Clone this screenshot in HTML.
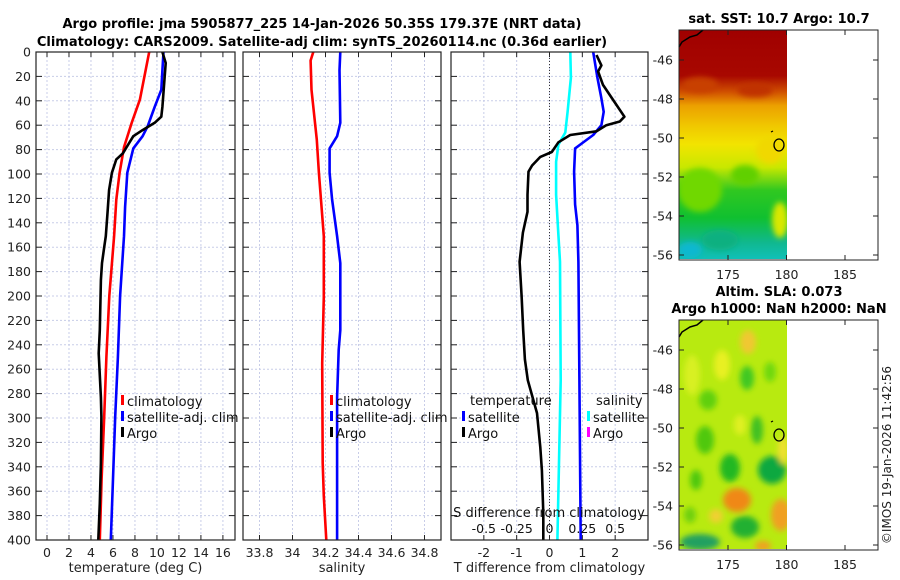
<!DOCTYPE html>
<html><head><meta charset="utf-8">
<style>
html,body{margin:0;padding:0;background:#fff;}
svg{display:block;font-family:"DejaVu Sans","Liberation Sans",sans-serif;}
</style></head>
<body>
<svg id="fig" width="900" height="580" viewBox="0 0 900 580" xmlns="http://www.w3.org/2000/svg">
<defs>
  <linearGradient id="sstGrad" x1="0" y1="0" x2="0" y2="1">
    <stop offset="0" stop-color="#a00000"/>
    <stop offset="0.2" stop-color="#a80800"/>
    <stop offset="0.27" stop-color="#d05000"/>
    <stop offset="0.33" stop-color="#eca000"/>
    <stop offset="0.42" stop-color="#f0c800"/>
    <stop offset="0.5" stop-color="#f2e400"/>
    <stop offset="0.6" stop-color="#c8e800"/>
    <stop offset="0.7" stop-color="#30c820"/>
    <stop offset="0.82" stop-color="#10c030"/>
    <stop offset="0.93" stop-color="#10b890"/>
    <stop offset="1" stop-color="#10c0b8"/>
  </linearGradient>
  <filter id="blur4" x="-50%" y="-50%" width="200%" height="200%"><feGaussianBlur stdDeviation="3"/></filter>
  <clipPath id="clipMap1"><rect x="679" y="30" width="108" height="229"/></clipPath>
  <clipPath id="clipMap2"><rect x="679" y="320" width="108" height="229"/></clipPath>
</defs>

<g font-weight="bold" font-size="13" text-anchor="middle" fill="#000">
  <text x="322" y="28">Argo profile: jma 5905877_225 14-Jan-2026 50.35S 179.37E (NRT data)</text>
  <text x="322" y="46">Climatology: CARS2009. Satellite-adj clim: synTS_20260114.nc (0.36d earlier)</text>
</g>

<!-- SST map -->
<g>
  <text x="779" y="23" font-size="13" font-weight="bold" text-anchor="middle">sat. SST: 10.7 Argo: 10.7</text>
  <g clip-path="url(#clipMap1)">
    <rect x="679" y="30" width="108" height="229" fill="url(#sstGrad)"/>
    <g filter="url(#blur4)">
      <ellipse cx="700" cy="190" rx="22" ry="22" fill="#70d800"/>
      <ellipse cx="745" cy="175" rx="14" ry="10" fill="#60d000"/>
      <ellipse cx="770" cy="150" rx="14" ry="14" fill="#f0d800"/>
      <ellipse cx="780" cy="220" rx="8" ry="18" fill="#d8e800"/>
      <ellipse cx="700" cy="85" rx="18" ry="8" fill="#c84000"/>
      <ellipse cx="755" cy="90" rx="18" ry="7" fill="#c03000"/>
      <ellipse cx="690" cy="250" rx="12" ry="8" fill="#10b8d0"/>
      <ellipse cx="720" cy="240" rx="18" ry="10" fill="#10b080"/>
    </g>
  </g>
  <path d="M679,47 L682,42 L690,37 L697,35 L703,30" fill="none" stroke="#000" stroke-width="1.5"/>
  <path d="M771,132 l2,-1" stroke="#000" stroke-width="1.2"/>
  <ellipse cx="779" cy="145" rx="5" ry="6" fill="none" stroke="#000" stroke-width="1.3"/>
  <rect x="679" y="30" width="199" height="230" fill="none" stroke="#222" stroke-width="1"/>
</g>

<!-- SLA map -->
<g>
  <text x="779" y="296" font-size="13" font-weight="bold" text-anchor="middle">Altim. SLA: 0.073</text>
  <text x="779" y="313" font-size="13" font-weight="bold" text-anchor="middle">Argo h1000: NaN h2000: NaN</text>
  <g clip-path="url(#clipMap2)">
    <rect x="679" y="320" width="108" height="229" fill="#b8ea10"/>
    <g filter="url(#blur4)">
      <ellipse cx="748" cy="342" rx="8" ry="12" fill="#f0c830"/>
      <ellipse cx="747" cy="378" rx="7" ry="12" fill="#40c820"/>
      <ellipse cx="692" cy="375" rx="8" ry="20" fill="#d8f020"/>
      <ellipse cx="708" cy="400" rx="9" ry="10" fill="#60d010"/>
      <ellipse cx="770" cy="372" rx="6" ry="10" fill="#70d810"/>
      <ellipse cx="722" cy="365" rx="8" ry="15" fill="#e8f020"/>
      <ellipse cx="705" cy="440" rx="9" ry="14" fill="#50c810"/>
      <ellipse cx="730" cy="468" rx="10" ry="14" fill="#20b820"/>
      <ellipse cx="757" cy="430" rx="6" ry="14" fill="#40c020"/>
      <ellipse cx="772" cy="470" rx="14" ry="14" fill="#10a840"/>
      <ellipse cx="783" cy="450" rx="5" ry="14" fill="#f0e030"/>
      <ellipse cx="740" cy="425" rx="6" ry="10" fill="#e0f020"/>
      <ellipse cx="696" cy="480" rx="6" ry="10" fill="#50c810"/>
      <ellipse cx="737" cy="500" rx="14" ry="12" fill="#f08818"/>
      <ellipse cx="745" cy="527" rx="14" ry="11" fill="#20b030"/>
      <ellipse cx="781" cy="515" rx="10" ry="16" fill="#f0a020"/>
      <ellipse cx="700" cy="542" rx="20" ry="8" fill="#20a060"/>
      <ellipse cx="716" cy="516" rx="7" ry="7" fill="#f0d030"/>
      <ellipse cx="763" cy="546" rx="8" ry="5" fill="#f0a020"/>
      <ellipse cx="690" cy="515" rx="6" ry="8" fill="#70d010"/>
    </g>
  </g>
  <path d="M679,337 L682,332 L690,327 L697,325 L703,320" fill="none" stroke="#000" stroke-width="1.5"/>
  <path d="M771,422 l2,-1" stroke="#000" stroke-width="1.2"/>
  <ellipse cx="779" cy="435" rx="5" ry="6" fill="none" stroke="#000" stroke-width="1.3"/>
  <rect x="679" y="320" width="199" height="230" fill="none" stroke="#222" stroke-width="1"/>
</g>

<text transform="translate(891,455) rotate(-90)" font-size="12" text-anchor="middle" fill="#222">©IMOS 19-Jan-2026 11:42:56</text>
</svg>

<script>
// ---------- data ----------
const depthTicks = [0,20,40,60,80,100,120,140,160,180,200,220,240,260,280,300,320,340,360,380,400];

const tempTicks = [0,2,4,6,8,10,12,14,16];
const salTicks = [33.8,34,34.2,34.4,34.6,34.8];
const salTickLabels = ['33.8','34','34.2','34.4','34.6','34.8'];
const tdiffTicks = [-2,-1,0,1,2];
const sdiffTicks = [-0.5,-0.25,0,0.25,0.5];
const sdiffTickLabels = ['-0.5','-0.25','0','0.25','0.5'];

const climTDepth = [0,39,58,78,99,121,151,200,250,299,350,400];
const climT      = [9.3,8.45,7.7,7.0,6.6,6.3,6.1,5.67,5.4,5.2,4.97,4.8];
const satTDepth  = [0,15,31,45,61,69,79,99,127,151,200,250,299,350,400];
const satT       = [10.6,10.5,10.4,9.8,9.15,8.7,7.85,7.3,7.1,7.0,6.65,6.45,6.2,6.0,5.8];
const argoTDepth = [0,9,45,53,58,64,69,83,88,99,113,132,151,160,173,187,228,247,283,299,337,370,400];
const argoT      = [10.5,10.8,10.5,10.4,9.8,8.7,7.85,6.9,6.3,5.9,5.65,5.5,5.35,5.2,5.0,4.9,4.8,4.7,4.9,4.95,4.9,4.8,4.67];

const climSDepth = [0,7,31,72,99,151,201,255,337,364,400];
const climS      = [34.126,34.11,34.115,34.147,34.16,34.19,34.19,34.18,34.183,34.19,34.205];
const satSDepth  = [0,15,58,69,79,99,121,151,173,228,244,283,400];
const satS       = [34.29,34.285,34.29,34.27,34.225,34.225,34.24,34.27,34.29,34.29,34.28,34.27,34.27];

const satTdiffDepth  = [0,21,38,49,60,68,75,79,98,125,142,172,269,400];
const satTdiff       = [1.33,1.46,1.58,1.65,1.58,1.33,0.98,0.78,0.75,0.78,0.85,0.88,0.91,0.95];
const argoTdiffDepth = [2.5,11,16,27,41,53,57,60,65,68,74,82,86,93,98,117,131,148,172,200,228,252,269,296,324,343,378,400];
const argoTdiff      = [1.43,1.58,1.48,1.63,1.98,2.28,2.14,1.73,1.43,0.63,0.27,0.07,-0.28,-0.53,-0.64,-0.67,-0.67,-0.81,-0.91,-0.85,-0.8,-0.75,-0.66,-0.38,-0.28,-0.23,-0.19,-0.19];
const satSdiffDepth  = [0,21,49,66,76,90,117,150,172,269,400];
const satSdiff       = [0.158,0.163,0.138,0.12,0.068,0.05,0.05,0.068,0.08,0.085,0.06];

const mapLatTicks = [-46,-48,-50,-52,-54,-56];
const mapLonTicks = [175,180,185];

// ---------- drawing ----------
const NS = 'http://www.w3.org/2000/svg';
const svg = document.getElementById('fig');
function mk(tag, attrs, parent){
  const e = document.createElementNS(NS, tag);
  for (const k in attrs) e.setAttribute(k, attrs[k]);
  (parent||svg).appendChild(e);
  return e;
}
const Y0 = 52, Y1 = 540, DMAX = 400;
function yDepth(d){ return Y0 + d*(Y1-Y0)/DMAX; }

function makePanel(name, x0, x1, xmin, xmax, ticks, labels, showY, xtitle){
  const g = mk('g', {});
  
  
  const sx = v => x0 + (v-xmin)*(x1-x0)/(xmax-xmin);
  ticks.forEach(t => {
    const x = sx(t);
    const l = mk('line', {x1:x, x2:x, y1:Y0, y2:Y1, stroke:'#c8cde8', 'stroke-width':1, 'stroke-dasharray':'2,2'}, g);
    
    
    mk('line', {x1:x, x2:x, y1:Y1, y2:Y1-5, stroke:'#222'}, g);
    mk('line', {x1:x, x2:x, y1:Y0, y2:Y0+5, stroke:'#222'}, g);
  });
  depthTicks.forEach(d => {
    const y = yDepth(d);
    mk('line', {x1:x0, x2:x1, y1:y, y2:y, stroke:'#c8cde8', 'stroke-width':1, 'stroke-dasharray':'2,2'}, g);
    mk('line', {x1:x0, x2:x0+6, y1:y, y2:y, stroke:'#222'}, g);
    mk('line', {x1:x1, x2:x1-6, y1:y, y2:y, stroke:'#222'}, g);
    if (showY){
      const t = mk('text', {x:x0-5, y:y+4.5, 'font-size':12.5, 'text-anchor':'end', fill:'#222'}, g);
      
      
      t.textContent = d;
    }
  });
  ticks.forEach((t,i) => {
    const tx = mk('text', {x:sx(t), y:557, 'font-size':12.5, 'text-anchor':'middle', fill:'#222'}, g);
    
    
    tx.textContent = labels[i];
  });
  const tt = mk('text', {x:(x0+x1)/2, y:572, 'font-size':13, 'text-anchor':'middle', fill:'#222'}, g);
  
  
  tt.textContent = xtitle;
  return {g, sx};
}
function frame(name, x0, x1){
  const r = mk('rect', {x:x0, y:Y0, width:x1-x0, height:Y1-Y0, fill:'none', stroke:'#222', 'stroke-width':1.2});
  
  
}
function line(p, depths, vals, color, nm, scale){
  const pts = depths.map((d,i) => p.sx(vals[i]*(scale||1)).toFixed(1)+','+yDepth(d).toFixed(1)).join(' ');
  const pl = mk('polyline', {points:pts, fill:'none', stroke:color, 'stroke-width':2.6, 'stroke-linejoin':'round'}, p.g);
  
  
}
function legend(g, x, y, color, label, nm){
  const r = mk('rect', {x:x, y:y-11, width:3, height:10, fill:color}, g);
  
  
  const t = mk('text', {x:x+6, y:y, 'font-size':13, fill:'#111'}, g);
  
  
  t.textContent = label;
}

// Panel 1: temperature
const p1 = makePanel('temperature-panel', 36, 235, -1, 17.1, tempTicks, tempTicks.map(String), true, 'temperature (deg C)');
line(p1, climTDepth, climT, '#ff0000', 'temperature-climatology-line');
line(p1, satTDepth, satT, '#0000ff', 'temperature-satellite-line');
line(p1, argoTDepth, argoT, '#000000', 'temperature-argo-line');
legend(p1.g, 121, 406, '#ff0000', 'climatology', 'legend-entry-climatology');
legend(p1.g, 121, 422, '#0000ff', 'satellite-adj. clim', 'legend-entry-satellite');
legend(p1.g, 121, 438, '#000000', 'Argo', 'legend-entry-argo');
frame('temperature-panel', 36, 235);

// Panel 2: salinity
const p2 = makePanel('salinity-panel', 243, 441, 33.7, 34.9, salTicks, salTickLabels, false, 'salinity');
line(p2, climSDepth, climS, '#ff0000', 'salinity-climatology-line');
line(p2, satSDepth, satS, '#0000ff', 'salinity-satellite-line');
legend(p2.g, 330, 406, '#ff0000', 'climatology', 'salinity-legend-climatology');
legend(p2.g, 330, 422, '#0000ff', 'satellite-adj. clim', 'salinity-legend-satellite');
legend(p2.g, 330, 438, '#000000', 'Argo', 'salinity-legend-argo');
frame('salinity-panel', 243, 441);

// Panel 3: differences
const p3 = makePanel('difference-panel', 451, 648, -3, 3, tdiffTicks, tdiffTicks.map(String), false, 'T difference from climatology');
const zl = mk('line', {x1:p3.sx(0), x2:p3.sx(0), y1:Y0, y2:Y1, stroke:'#333', 'stroke-width':1, 'stroke-dasharray':'1,2'}, p3.g);


line(p3, satSdiffDepth, satSdiff, '#00ffff', 'salinity-diff-satellite-line', 4);
line(p3, satTdiffDepth, satTdiff, '#0000ff', 'temperature-diff-satellite-line');
line(p3, argoTdiffDepth, argoTdiff, '#000000', 'temperature-diff-argo-line');
const st = mk('text', {x:549, y:517, 'font-size':13, 'text-anchor':'middle', fill:'#111'}, p3.g);


st.textContent = 'S difference from climatology';
sdiffTicks.forEach((s,i) => {
  const t = mk('text', {x:p3.sx(s*4), y:533, 'font-size':12.5, 'text-anchor':'middle', fill:'#111'}, p3.g);
  
  
  t.textContent = sdiffTickLabels[i];
});
const lt1 = mk('text', {x:470, y:405, 'font-size':13, fill:'#111'}, p3.g);


lt1.textContent = 'temperature';
const lt2 = mk('text', {x:596, y:405, 'font-size':13, fill:'#111'}, p3.g);


lt2.textContent = 'salinity';
legend(p3.g, 462, 422, '#0000ff', 'satellite', 'legend-entry-t-satellite');
legend(p3.g, 462, 438, '#000000', 'Argo', 'legend-entry-t-argo');
legend(p3.g, 587, 422, '#00ffff', 'satellite', 'legend-entry-s-satellite');
legend(p3.g, 587, 438, '#ff00ff', 'Argo', 'legend-entry-s-argo');
frame('difference-panel', 451, 648);

// Map axes
function mapAxes(name, top, latAt46){
  const g = mk('g', {});
  
  
  const sy = lat => latAt46 + (-46 - lat)*19.5;
  const sx = lon => 786.5 + (lon-180)*11.7;
  mapLatTicks.forEach(lat => {
    const y = sy(lat);
    mk('line', {x1:679, x2:684, y1:y, y2:y, stroke:'#222'}, g);
    mk('line', {x1:878, x2:873, y1:y, y2:y, stroke:'#222'}, g);
    const t = mk('text', {x:673, y:y+4.5, 'font-size':12.5, 'text-anchor':'end', fill:'#222'}, g);
    
    
    t.textContent = lat;
  });
  mapLonTicks.forEach(lon => {
    const x = sx(lon);
    mk('line', {x1:x, x2:x, y1:top+230, y2:top+225, stroke:'#222'}, g);
    mk('line', {x1:x, x2:x, y1:top, y2:top+5, stroke:'#222'}, g);
    const t = mk('text', {x:x, y:top+249, 'font-size':12.5, 'text-anchor':'middle', fill:'#222'}, g);
    
    
    t.textContent = lon;
  });
}
mapAxes('sst-map', 30, 60);
mapAxes('sla-map', 320, 350);
</script>
</body></html>
